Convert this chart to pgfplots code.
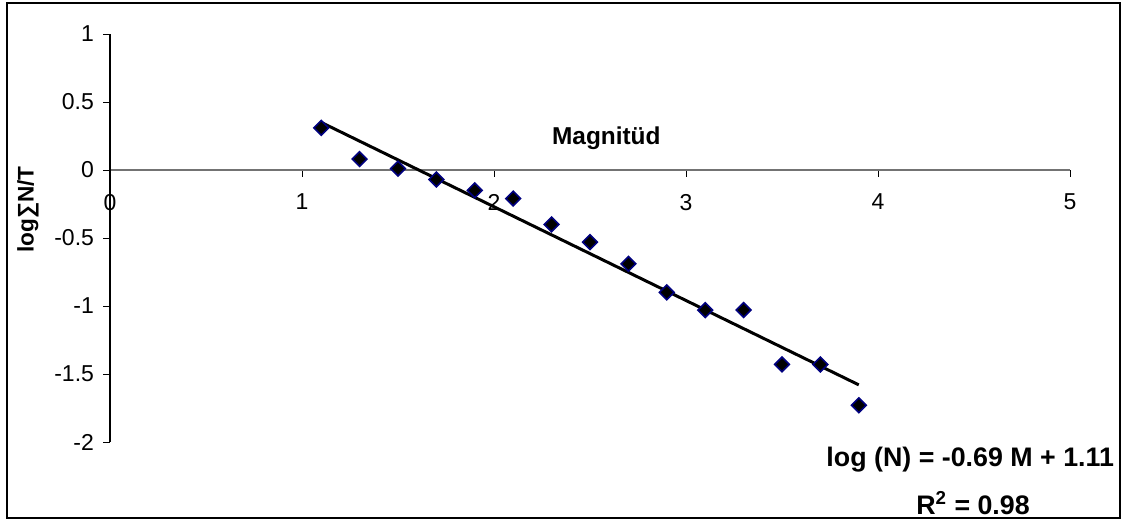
\documentclass[border=0pt]{standalone}
\usepackage{pgfplots}
\pgfplotsset{compat=1.18}
\usepackage{fontspec}
\setmainfont{Liberation Sans}
\definecolor{navy}{RGB}{0,0,128}
\begin{document}
\begin{tikzpicture}
\useasboundingbox (0pt,0pt) rectangle (566.5pt,264.5pt);
\draw[line width=1pt] (3.5pt,5.5pt) rectangle (560pt,263.2pt);
\begin{axis}[at={(55pt,179.5pt)}, anchor=origin, scale only axis,
  width=480pt, height=204pt,
  xmin=0, xmax=5, ymin=-2, ymax=1,
  axis x line=middle, axis y line=left,
  x axis line style={-, draw=gray!90!black, line width=0.8pt},
  y axis line style={-, line width=0.6pt},
  xtick={0,1,2,3,4,5}, ytick={-2,-1.5,-1,-0.5,0,0.5,1},
  yticklabels={-2,-1.5,-1,-0.5,0,0.5,1},
  tick align=outside, major tick length=3.5pt,
  tick style={black, line width=0.4pt},
  hide obscured x ticks=false, hide obscured y ticks=false,
  /pgf/number format/assume math mode=true,
  ticklabel style={font=\fontsize{11.5}{13}\selectfont},
  xticklabel style={yshift=-5pt},
  yticklabel style={xshift=-1pt},
  xlabel={Magnitüd}, ylabel={log∑N/T},
  every axis x label/.style={at={(axis description cs:0.517,0.745)}, anchor=center, font=\bfseries\fontsize{12.2}{14}\selectfont},
  every axis y label/.style={at={(axis description cs:-0.0854,0.57)}, rotate=90, anchor=center, font=\bfseries\fontsize{11.3}{13}\selectfont},
  clip=false,
]
\addplot[only marks, mark=square*, mark size=2.6pt,
  mark options={rotate=45, fill=black, draw=navy, line width=0.8pt}]
  coordinates {
  (1.1,0.31) (1.3,0.08) (1.5,0.01) (1.7,-0.07) (1.9,-0.15) (2.1,-0.21)
  (2.3,-0.40) (2.5,-0.53) (2.7,-0.69) (2.9,-0.90) (3.1,-1.03) (3.3,-1.03)
  (3.5,-1.43) (3.7,-1.43) (3.9,-1.73)
  };
\addplot[black, line width=1.5pt, no marks] coordinates {(1.1,0.35) (3.9,-1.58)};
\end{axis}
\node[anchor=east, font=\bfseries\fontsize{13.4}{15}\selectfont] at (560.5pt,34.5pt) {log (N) = -0.69 M + 1.11};
\node[anchor=center, font=\bfseries\fontsize{13.4}{15}\selectfont] at (486.5pt,13pt) {R\textsuperscript{2} = 0.98};
\end{tikzpicture}
\end{document}
